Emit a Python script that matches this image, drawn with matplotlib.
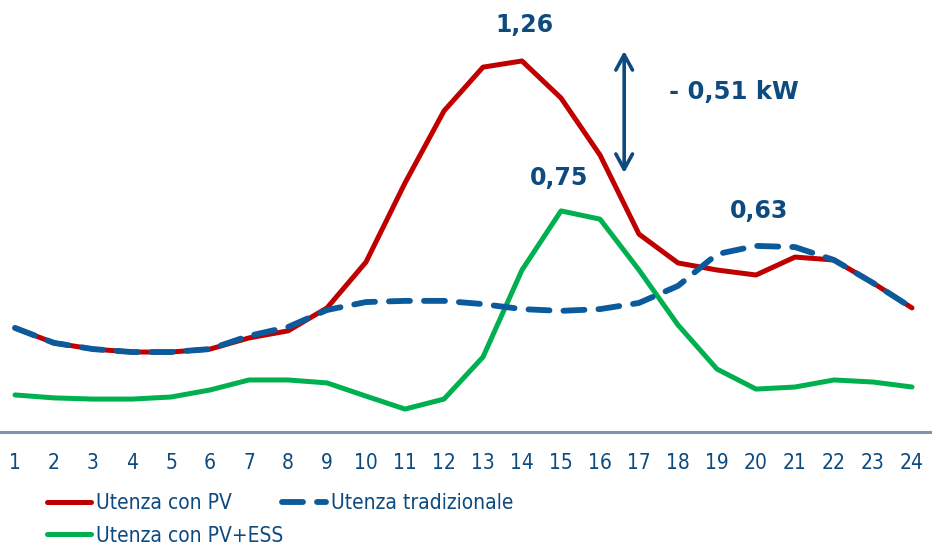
import matplotlib
matplotlib.use("Agg")
import matplotlib.pyplot as plt

hours = list(range(1, 25))
pv = [0.354, 0.303, 0.282, 0.272, 0.272, 0.282, 0.320, 0.344, 0.422, 0.578, 0.847, 1.092,
      1.241, 1.262, 1.136, 0.942, 0.673, 0.575, 0.551, 0.534, 0.595, 0.585, 0.507, 0.422]
trad = [0.354, 0.303, 0.282, 0.272, 0.272, 0.282, 0.327, 0.357, 0.415, 0.442, 0.446, 0.446,
        0.435, 0.418, 0.412, 0.418, 0.439, 0.497, 0.605, 0.633, 0.629, 0.585, 0.507, 0.422]
pvess = [0.126, 0.116, 0.112, 0.112, 0.119, 0.143, 0.177, 0.177, 0.167, 0.122, 0.078, 0.112,
         0.255, 0.551, 0.752, 0.724, 0.551, 0.364, 0.214, 0.146, 0.153, 0.177, 0.170, 0.153]
labels = ["Utenza con PV", "Utenza tradizionale", "Utenza con PV+ESS"]

navy = "#0D4A80"
W, H = 932, 546
fig = plt.figure(figsize=(W/100, H/100), dpi=100)
ax = fig.add_axes([0, (H-432)/H, 1, 432/H])
ax.set_xlim(1 - 15/39, 24 + 20/39)
ax.set_ylim(0, 432/294)

l1, = ax.plot(hours, pv, color="#C00000", lw=3.6, solid_capstyle="round", zorder=2)
l2, = ax.plot(hours, trad, color="#0A5A9C", lw=4.2, dashes=(3.6, 2.4), dash_capstyle="round", zorder=3)
l3, = ax.plot(hours, pvess, color="#00B050", lw=3.6, solid_capstyle="round", zorder=2)

for s in ["top", "right", "left"]:
    ax.spines[s].set_visible(False)
ax.spines["bottom"].set_color("#8591AA")
ax.spines["bottom"].set_linewidth(2.2)
ax.set_yticks([])
ax.set_xticks(hours)
ax.tick_params(axis="x", length=0, pad=15, labelsize=15, labelcolor=navy)
for t in ax.get_xticklabels():
    t.set_fontstretch("condensed")

bold = dict(ha="center", va="center", fontsize=17, fontweight="bold", color=navy)
ax.text(14.05, (432-25)/294, "1,26", **bold)
ax.text(14.95, (432-178)/294, "0,75", **bold)
ax.text(20.08, (432-211)/294, "0,63", **bold)
ax.text(17.77, (432-92)/294, "- 0,51 kW", ha="left", va="center", fontsize=17.5,
        fontweight="bold", color=navy)
ax.annotate("", xy=(16.62, (432-51)/294), xytext=(16.62, (432-173)/294),
            arrowprops=dict(arrowstyle="<->,head_length=1.1,head_width=0.6", color=navy, lw=2.6,
                            shrinkA=0, shrinkB=0))

lprops = {"size": 15, "stretch": "condensed"}
common = dict(loc="upper left", frameon=False, handlelength=2.1, handletextpad=0.25,
              borderpad=0, borderaxespad=0, labelspacing=0.6, prop=lprops)
leg1 = fig.legend([l1, l3], [labels[0], labels[2]], bbox_to_anchor=(47/W, 1 - 493/H), **common)
leg2 = fig.legend([l2], [labels[1]], bbox_to_anchor=(282/W, 1 - 493/H), **common)
for lg in (leg1, leg2):
    for t in lg.get_texts():
        t.set_color(navy)

fig.savefig("out.png", dpi=100)
